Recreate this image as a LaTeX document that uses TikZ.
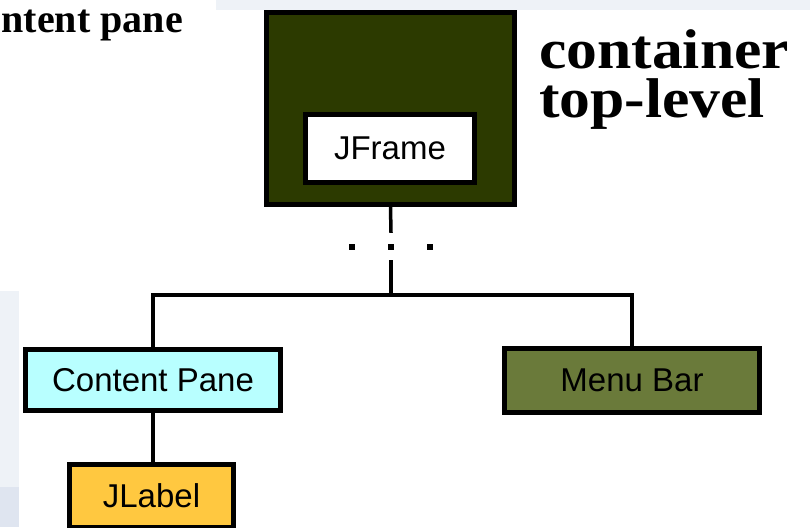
\documentclass[tikz,border=0pt]{standalone}
\usepackage{fontspec}
\setmainfont{Liberation Serif}
\setsansfont{Liberation Sans}
\newfontfamily\capfont{Liberation Serif}[FakeStretch=1.1]
\usetikzlibrary{shapes}
\definecolor{toplevel}{HTML}{2C3A00}
\definecolor{panecyan}{HTML}{B8FFFF}
\definecolor{barolive}{HTML}{6A7A3A}
\definecolor{labelgold}{HTML}{FFC840}
\definecolor{strip}{HTML}{EEF2F7}
\definecolor{stripdark}{HTML}{DFE5F0}

\begin{document}
\begin{tikzpicture}[x=1pt,y=-1pt]
\tikzstyle{box}=[rectangle,draw=black,line width=5pt,inner sep=0pt,font=\sffamily\fontsize{33}{33}\selectfont]
\tikzstyle{link}=[line width=3.5pt]
\tikzstyle{dotsq}=[rectangle,fill=black,minimum size=6pt,inner sep=0pt]
\tikzstyle{caption}=[anchor=base west,align=left,inner sep=0pt,font=\capfont\bfseries\fontsize{56}{49}\selectfont]

\useasboundingbox (0,0) rectangle (810,527);
\fill[strip] (216,0) rectangle (810,10);
\fill[strip] (0,291) rectangle (19,527);
\fill[stripdark] (0,487) rectangle (19,527);

\node[anchor=base east,inner sep=0pt,font=\bfseries\fontsize{40}{40}\selectfont] (panecap) at (183,33) {ntent pane};
\node[caption] (cap) at (539,117) {container\\top-level};

\node[box,fill=toplevel,minimum width=248pt,minimum height=192pt] (top) at (390.5,108.5) {};
\node[box,fill=white,minimum width=169pt,minimum height=68pt] (jframe) at (390,148.5) {JFrame};
\node[box,fill=panecyan,minimum width=255pt,minimum height=61pt] (cpane) at (153,380) {Content Pane};
\node[box,fill=barolive,minimum width=255pt,minimum height=64pt] (mbar) at (632,380.5) {Menu Bar};
\node[box,fill=labelgold,minimum width=164pt,minimum height=63pt] (jlabel) at (151.5,496) {JLabel};

\node[dotsq] (d1) at (352,247) {};
\node[dotsq] (d2) at (391,247) {};
\node[dotsq] (d3) at (430,247) {};
\coordinate (fork) at (391,295);

\draw[link] (top.south) -- ([yshift=11pt]d2.north);
\draw[link] ([yshift=-10pt]d2.south) -- (fork);
\draw[link] (cpane.north) |- (fork) -| (mbar.north);
\draw[link] (cpane.south) -- (cpane.south |- jlabel.north);
\end{tikzpicture}
\end{document}
